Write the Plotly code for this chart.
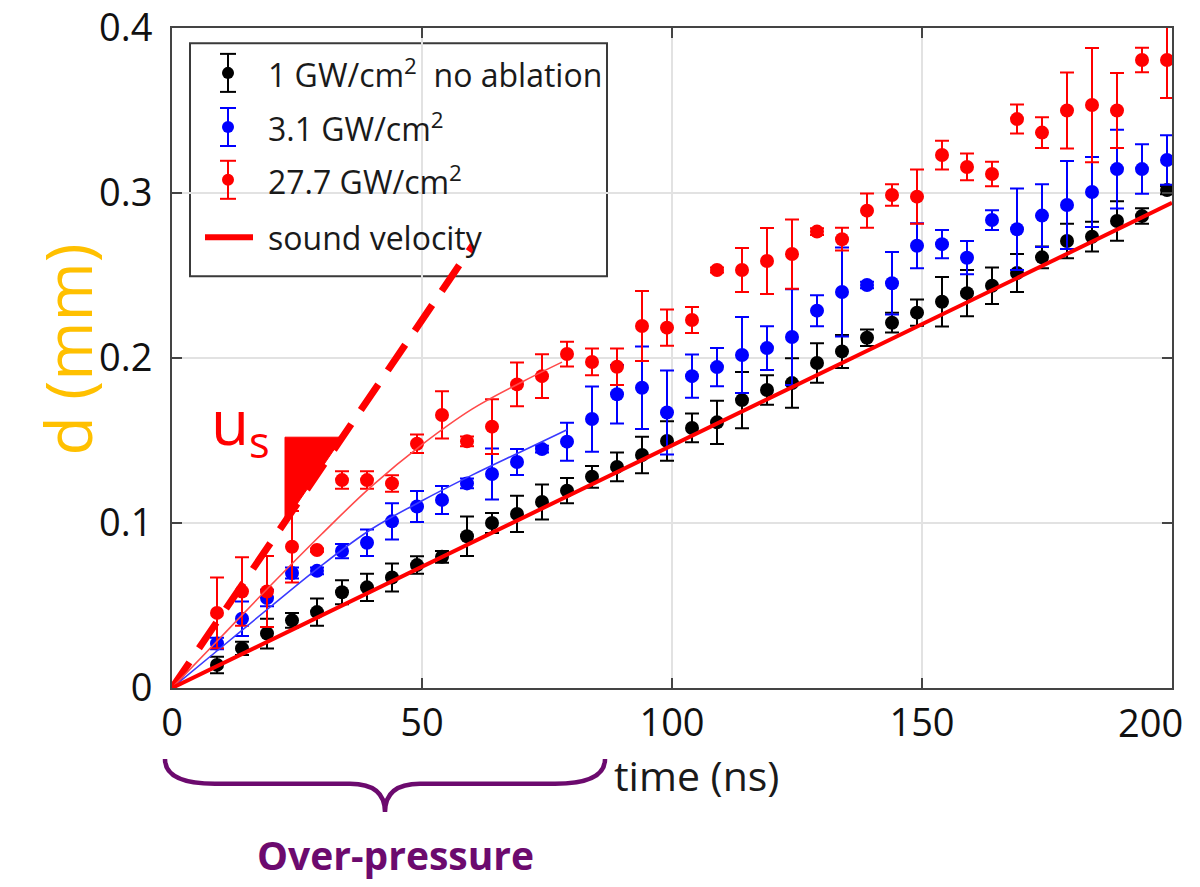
import plotly.graph_objects as go

# ---------------- data ----------------
time_ns = [9, 14, 19, 24, 29, 34, 39, 44, 49, 54, 59, 64, 69, 74, 79, 84, 89, 94, 99, 104,
           109, 114, 119, 124, 129, 134, 139, 144, 149, 154, 159, 164, 169, 174, 179, 184, 189, 194, 199]

d_1gw = [0.014, 0.024, 0.033, 0.041, 0.046, 0.058, 0.061, 0.067, 0.0745, 0.0795,
         0.092, 0.100, 0.1055, 0.1127, 0.1196, 0.128, 0.134, 0.1412, 0.1497, 0.1576,
         0.161, 0.1745, 0.1806, 0.1848, 0.197, 0.204, 0.2123, 0.2214, 0.2275, 0.2341,
         0.2393, 0.2438, 0.2515, 0.261, 0.2709, 0.2735, 0.283, 0.286, 0.3018]
err_1gw = [0.005, 0.004, 0.009, 0.0045, 0.0083, 0.0073, 0.0083, 0.0085, 0.0053, 0.0036,
           0.012, 0.006, 0.011, 0.0106, 0.0076, 0.0066, 0.0087, 0.0111, 0.012, 0.0087,
           0.0131, 0.017, 0.009, 0.015, 0.012, 0.010, 0.005, 0.006, 0.008, 0.015,
           0.014, 0.011, 0.0115, 0.0066, 0.0105, 0.009, 0.012, 0.0047, 0.0025]

d_3gw = [0.027, 0.042, 0.0545, 0.0697, 0.071, 0.083, 0.088, 0.101, 0.110, 0.114,
         0.124, 0.1297, 0.137, 0.1448, 0.1493, 0.163, 0.178, 0.182, 0.167, 0.189,
         0.1945, 0.2018, 0.206, 0.2127, 0.2287, 0.240, 0.2442, 0.2453, 0.268, 0.269,
         0.2608, 0.2836, 0.278, 0.2863, 0.2927, 0.3006, 0.3145, 0.3145, 0.320]
err_3gw = [0.0035, 0.0105, 0.005, 0.0033, 0.002, 0.0043, 0.008, 0.011, 0.0094, 0.0085,
           0.003, 0.0154, 0.0079, 0.002, 0.0115, 0.0198, 0.0177, 0.025, 0.0255, 0.0131,
           0.0116, 0.023, 0.0133, 0.029, 0.0094, 0.027, 0.002, 0.019, 0.0136, 0.0086,
           0.0101, 0.006, 0.0247, 0.019, 0.0267, 0.0212, 0.0239, 0.015, 0.015]

d_27gw = [0.0455, 0.0585, 0.0585, 0.0856, 0.0836, 0.126, 0.126, 0.124, 0.148, 0.1655,
          0.1495, 0.1584, 0.184, 0.189, 0.2024, 0.1976, 0.1947, 0.2194, 0.2184, 0.223,
          0.2533, 0.2533, 0.2588, 0.263, 0.2766, 0.272, 0.2893, 0.2988, 0.2978, 0.323,
          0.3158, 0.3115, 0.3448, 0.3366, 0.350, 0.3533, 0.350, 0.3806, 0.3806]
err_27gw = [0.0214, 0.0208, 0.0215, 0.0216, 0.001, 0.0053, 0.0053, 0.005, 0.0056, 0.0143,
            0.003, 0.0166, 0.0132, 0.0133, 0.0075, 0.0081, 0.011, 0.0212, 0.011, 0.0079,
            0.0015, 0.0133, 0.020, 0.021, 0.002, 0.0069, 0.0104, 0.0065, 0.0164, 0.0087,
            0.0081, 0.0074, 0.0088, 0.0093, 0.023, 0.0346, 0.0227, 0.0074, 0.023]

# fitted curves
fit_27gw_t = [0, 10, 20, 30, 40, 50, 60, 70, 78]
fit_27gw_d = [0, 0.0315, 0.063, 0.0935, 0.1225, 0.1475, 0.169, 0.1855, 0.1975]
fit_3gw_t = [0, 10, 20, 30, 40, 50, 60, 70, 79]
fit_3gw_d = [0, 0.025, 0.050, 0.0745, 0.0965, 0.1135, 0.129, 0.1435, 0.1565]

# sound velocity line and shock velocity (u_s) guide
sound_t = [0, 200]
sound_d = [0, 0.294]
us_t = [0, 60.2]
us_d = [0, 0.2685]
us_triangle_t = [22.6, 34.1, 22.6]
us_triangle_d = [0.152, 0.152, 0.1008]

x_ticks = [0, 50, 100, 150, 200]
x_ticklabels = ["0", "50", "100", "150", "200"]
y_ticks = [0, 0.1, 0.2, 0.3, 0.4]
y_ticklabels = ["0", "0.1", "0.2", "0.3", "0.4"]

legend_labels = ["1 GW/cm<sup>2</sup>  no ablation", "3.1 GW/cm<sup>2</sup>",
                 "27.7 GW/cm<sup>2</sup>", "sound velocity"]

# ---------------- figure ----------------
BLACK, BLUE, RED = "#000000", "#0000ff", "#ff0000"
PURPLE = "#6c0a6e"
FONT = "Open Sans"
TXT = "#1a1a1a"

fig = go.Figure()

# u_s dashed guide line
fig.add_trace(go.Scatter(x=us_t, y=us_d, mode="lines",
                         line=dict(color=RED, width=7, dash="31px,17px"),
                         hoverinfo="skip", showlegend=False))


def pts(y, err, color):
    return go.Scatter(x=time_ns, y=y, mode="markers",
                      marker=dict(color=color, size=14, line=dict(width=0)),
                      error_y=dict(type="data", array=err, visible=True,
                                   color=color, thickness=2, width=7),
                      showlegend=False)


fig.add_trace(pts(d_1gw, err_1gw, BLACK))
fig.add_trace(pts(d_3gw, err_3gw, BLUE))
fig.add_trace(pts(d_27gw, err_27gw, RED))

fig.add_trace(go.Scatter(x=fit_3gw_t, y=fit_3gw_d, mode="lines", line_shape="spline",
                         line=dict(color="#3a3aff", width=1.6), showlegend=False))
fig.add_trace(go.Scatter(x=fit_27gw_t, y=fit_27gw_d, mode="lines", line_shape="spline",
                         line=dict(color="#ff4a4a", width=1.6), showlegend=False))
fig.add_trace(go.Scatter(x=sound_t, y=sound_d, mode="lines",
                         line=dict(color=RED, width=4), showlegend=False))

# slope triangle
tri_path = "M {} {} L {} {} L {} {} Z".format(
    us_triangle_t[0], us_triangle_d[0], us_triangle_t[1], us_triangle_d[1],
    us_triangle_t[2], us_triangle_d[2])
shapes = [dict(type="path", xref="x", yref="y", path=tri_path,
               fillcolor=RED, line=dict(color=RED, width=1), layer="above")]

# custom legend box
lx0, lx1, ly0, ly1 = 0.018, 0.435, 0.624, 0.977
shapes.append(dict(type="rect", xref="paper", yref="paper", x0=lx0, x1=lx1, y0=ly0, y1=ly1,
                   fillcolor="white", line=dict(color="#3a3a3a", width=2), layer="between"))
sym_x = 0.056
row_y = [0.932, 0.850, 0.770]
row_col = [BLACK, BLUE, RED]
bar_h = 0.0288
cap_w = 0.008
for yy, cc in zip(row_y, row_col):
    shapes.append(dict(type="line", xref="paper", yref="paper", x0=sym_x, x1=sym_x,
                       y0=yy - bar_h, y1=yy + bar_h, line=dict(color=cc, width=2), layer="above"))
    for yc in (yy - bar_h, yy + bar_h):
        shapes.append(dict(type="line", xref="paper", yref="paper", x0=sym_x - cap_w,
                           x1=sym_x + cap_w, y0=yc, y1=yc, line=dict(color=cc, width=2),
                           layer="above"))
    shapes.append(dict(type="circle", xref="paper", yref="paper", x0=sym_x - 0.006,
                       x1=sym_x + 0.006, y0=yy - 0.0091, y1=yy + 0.0091,
                       fillcolor=cc, line=dict(color=cc, width=0), layer="above"))
shapes.append(dict(type="line", xref="paper", yref="paper", x0=0.033, x1=0.081,
                   y0=0.683, y1=0.683, line=dict(color=RED, width=6), layer="above"))

annotations = []
for lab, yy in zip(legend_labels, row_y + [0.683]):
    annotations.append(dict(text=lab, xref="paper", yref="paper", x=0.094, y=yy,
                            xanchor="left", yanchor="middle", showarrow=False,
                            font=dict(family=FONT, size=32, color=TXT)))

# brace under x axis
bx0, bx1, bxm = -0.007, 0.433, 0.213
byt, byh, byp = -0.1076, -0.145, -0.188
brace = ("M {a},{t} Q {a},{h} {a2},{h} L {m1},{h} Q {m},{h} {m},{p} "
         "Q {m},{h} {m2},{h} L {b2},{h} Q {b},{h} {b},{t}").format(
    a=bx0, a2=bx0 + 0.05, m1=bxm - 0.035, m=bxm, m2=bxm + 0.035,
    b2=bx1 - 0.05, b=bx1, t=byt, h=byh, p=byp)
shapes.append(dict(type="path", xref="paper", yref="paper", path=brace,
                   line=dict(color=PURPLE, width=4.5)))

annotations += [
    dict(text="Over-pressure", xref="paper", yref="paper", x=0.223, y=-0.253,
         xanchor="center", yanchor="middle", showarrow=False,
         font=dict(family=FONT, size=39, color=PURPLE, weight="bold")),
    dict(text="time (ns)", xref="paper", yref="paper", x=0.44, y=-0.132,
         xanchor="left", yanchor="middle", showarrow=False,
         font=dict(family=FONT, size=41, color=TXT)),
    dict(text="d (mm)", xref="paper", yref="paper", x=-0.105, y=0.513,
         xanchor="center", yanchor="middle", textangle=-90, showarrow=False,
         font=dict(family=FONT, size=64, color="#ffc000")),
    dict(text="u<sub>s</sub>", xref="paper", yref="paper", x=0.037, y=0.398,
         xanchor="left", yanchor="middle", showarrow=False,
         font=dict(family=FONT, size=62, color=RED)),
    # last x tick label sits left of its tick, as in the reference
    dict(text=x_ticklabels[-1], xref="paper", yref="paper", x=0.978, y=-0.052,
         xanchor="center", yanchor="middle", showarrow=False,
         font=dict(family=FONT, size=38, color="#111111")),
]

axis_common = dict(showgrid=True, gridcolor="#e2e2e2", gridwidth=2, automargin=False,
                   showline=True, linecolor="#444444", linewidth=2, mirror="ticks",
                   ticks="inside", ticklen=10, tickwidth=2, tickcolor="#444444",
                   zeroline=False, ticklabeloverflow="allow",
                   tickfont=dict(family=FONT, size=38, color="#111111"))

fig.update_layout(
    width=1200, height=887,
    margin=dict(l=172, r=28, t=28, b=199),
    paper_bgcolor="white", plot_bgcolor="white",
    showlegend=False,
    xaxis=dict(range=[0, 200], tickvals=x_ticks[:-1], ticktext=x_ticklabels[:-1],
               ticklabelstandoff=0, **axis_common),
    yaxis=dict(range=[0, 0.4], tickvals=y_ticks, ticktext=y_ticklabels,
               ticklabelstandoff=10, **axis_common),
    shapes=shapes, annotations=annotations,
)

# remove the default 8px page margin so the figure fills the window exactly
fig.write_html("out.html", config={"displayModeBar": False},
               post_script="document.body.style.margin='0';")
